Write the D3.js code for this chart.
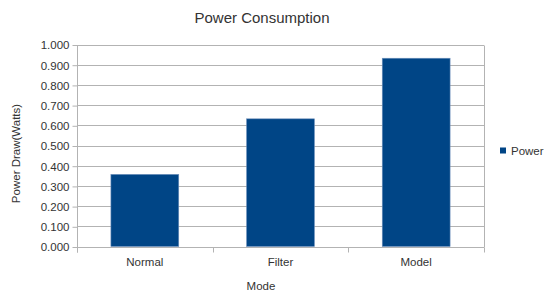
<!DOCTYPE html>
<html><head><meta charset="utf-8">
<script src="https://cdn.jsdelivr.net/npm/d3@7"></script>
<style>body{margin:0;background:#fff}svg{display:block}text{font-family:"Liberation Sans",Arial,sans-serif;fill:#333}</style>
</head><body>
<script>
const categories = ["Normal", "Filter", "Model"];
const powerValues = [0.357, 0.632, 0.932];
const seriesName = "Power";
const yTicks = [0, 0.1, 0.2, 0.3, 0.4, 0.5, 0.6, 0.7, 0.8, 0.9, 1.0];

const W = 547, H = 291;
const m = {left: 77, right: 63, top: 44.5, bottom: 44.5};
const svg = d3.select("body").append("svg").attr("width", W).attr("height", H);
const x = d3.scaleBand().domain(categories).range([m.left, W - m.right]).paddingInner(0.5).paddingOuter(0.25);
const y = d3.scaleLinear().domain([0, 1]).range([H - m.bottom, m.top]);

// gridlines
svg.append("g").selectAll("line").data(yTicks).join("line")
  .attr("x1", m.left).attr("x2", W - m.right)
  .attr("y1", d => Math.round(y(d)) + 0.5).attr("y2", d => Math.round(y(d)) + 0.5)
  .attr("stroke", "#b3b3b3").attr("stroke-width", 1);
// right border
svg.append("line").attr("x1", W - m.right + 0.5).attr("x2", W - m.right + 0.5)
  .attr("y1", Math.round(y(1)) + 0.5).attr("y2", Math.round(y(0)) + 0.5).attr("stroke", "#b3b3b3");

// bars
svg.append("g").selectAll("rect").data(categories).join("rect")
  .attr("x", d => x(d)).attr("width", x.bandwidth())
  .attr("y", (d, i) => y(powerValues[i])).attr("height", (d, i) => y(0) - y(powerValues[i]))
  .attr("fill", "#004586").attr("stroke", "#6d8fbb").attr("stroke-width", 0.6);

// y axis
const yAxis = d3.axisLeft(y).tickValues(yTicks).tickFormat(d3.format(".3f")).tickSize(5).tickPadding(3);
const gy = svg.append("g").attr("transform", `translate(${m.left + 0.5},0.5)`).call(yAxis);
gy.select(".domain").attr("stroke", "#b3b3b3").attr("d", `M0,${Math.round(y(1))}V${Math.round(y(0)) + 5}`);
gy.selectAll(".tick line").attr("stroke", "#b3b3b3");
gy.selectAll(".tick text").attr("font-size", "11.5px").attr("fill", "#333").attr("dy", "0.34em");

// x axis
const xb = d3.scaleLinear().domain([0, categories.length]).range([m.left, W - m.right]);
const gx = svg.append("g");
gx.selectAll("line").data(d3.range(categories.length + 1)).join("line")
  .attr("x1", d => Math.round(xb(d)) + 0.5).attr("x2", d => Math.round(xb(d)) + 0.5)
  .attr("y1", Math.round(y(0)) + 0.5).attr("y2", Math.round(y(0)) + 5.5).attr("stroke", "#b3b3b3");
gx.selectAll("text").data(categories).join("text")
  .attr("x", d => x(d) + x.bandwidth() / 2).attr("y", 266).attr("text-anchor", "middle")
  .attr("font-size", "11.5px").text(d => d);

// titles
svg.append("text").attr("x", 262).attr("y", 22.5).attr("text-anchor", "middle").attr("font-size", "15px").text("Power Consumption");
svg.append("text").attr("x", 261).attr("y", 289.5).attr("text-anchor", "middle").attr("font-size", "11.5px").text("Mode");
svg.append("text").attr("transform", "translate(19.5,153.5) rotate(-90)").attr("text-anchor", "middle").attr("font-size", "11.5px").text("Power Draw(Watts)");

// legend
svg.append("rect").attr("x", 500).attr("y", 147.5).attr("width", 6).attr("height", 6).attr("fill", "#004586");
svg.append("text").attr("x", 511).attr("y", 150.5).attr("dy", "0.35em").attr("font-size", "11.5px").text(seriesName);
</script>
</body></html>
